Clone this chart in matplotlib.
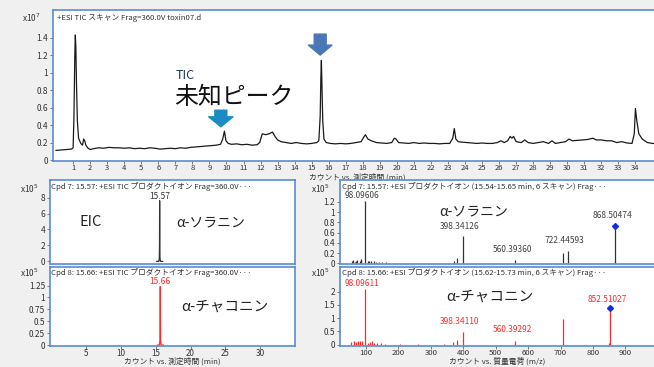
import matplotlib
matplotlib.use('Agg')
import matplotlib.pyplot as plt
from matplotlib.ticker import FormatStrFormatter

plt.rcParams['font.family'] = ['Noto Sans CJK JP', 'DejaVu Sans']

# TIC scan (x10^7) vs retention time (min)
tic_points = [
    (0.0, 0.11), (0.3, 0.115), (0.6, 0.12), (0.9, 0.125), (1.0, 0.14), (1.05, 0.5),
    (1.1, 1.2), (1.13, 1.43), (1.16, 1.3), (1.2, 0.85), (1.25, 0.45), (1.32, 0.25),
    (1.45, 0.19), (1.55, 0.17), (1.62, 0.24), (1.68, 0.22), (1.75, 0.17), (1.85, 0.14),
    (2.0, 0.12), (2.2, 0.13), (2.5, 0.14), (2.8, 0.135), (3.1, 0.145), (3.4, 0.14),
    (3.7, 0.14), (4.0, 0.135), (4.3, 0.14), (4.6, 0.13), (4.9, 0.135), (5.2, 0.13),
    (5.5, 0.14), (5.8, 0.135), (6.1, 0.125), (6.4, 0.13), (6.7, 0.135), (7.0, 0.13),
    (7.3, 0.14), (7.6, 0.135), (7.9, 0.145), (8.2, 0.15), (8.5, 0.155), (8.8, 0.16),
    (9.1, 0.165), (9.4, 0.17), (9.65, 0.18), (9.78, 0.24), (9.88, 0.33), (9.97, 0.22),
    (10.1, 0.19), (10.3, 0.18), (10.6, 0.185), (10.9, 0.175), (11.2, 0.18), (11.5, 0.17),
    (11.8, 0.175), (11.95, 0.2), (12.1, 0.3), (12.3, 0.29), (12.5, 0.3), (12.7, 0.32),
    (12.85, 0.27), (13.0, 0.23), (13.2, 0.21), (13.5, 0.2), (13.8, 0.19), (14.1, 0.2),
    (14.4, 0.19), (14.7, 0.185), (15.0, 0.19), (15.3, 0.2), (15.42, 0.22), (15.5, 0.5),
    (15.54, 0.95), (15.57, 1.14), (15.6, 0.9), (15.65, 0.45), (15.72, 0.24), (15.85, 0.2),
    (16.1, 0.19), (16.4, 0.185), (16.7, 0.19), (17.0, 0.185), (17.3, 0.19), (17.6, 0.2),
    (17.9, 0.21), (18.05, 0.26), (18.15, 0.29), (18.3, 0.24), (18.5, 0.22), (18.8, 0.2),
    (19.1, 0.195), (19.4, 0.19), (19.7, 0.2), (19.85, 0.25), (19.95, 0.24), (20.1, 0.2),
    (20.4, 0.195), (20.7, 0.19), (21.0, 0.2), (21.3, 0.19), (21.6, 0.195), (21.9, 0.19),
    (22.2, 0.19), (22.5, 0.185), (22.8, 0.19), (23.1, 0.19), (23.28, 0.25), (23.37, 0.36),
    (23.46, 0.24), (23.6, 0.21), (23.8, 0.205), (24.1, 0.2), (24.4, 0.195), (24.7, 0.19),
    (25.0, 0.195), (25.3, 0.19), (25.6, 0.19), (25.9, 0.2), (26.1, 0.22), (26.3, 0.2),
    (26.5, 0.22), (26.65, 0.27), (26.75, 0.25), (26.85, 0.27), (27.0, 0.21), (27.3, 0.2),
    (27.5, 0.23), (27.7, 0.2), (28.0, 0.19), (28.3, 0.2), (28.6, 0.21), (28.9, 0.19),
    (29.1, 0.22), (29.3, 0.19), (29.6, 0.2), (29.9, 0.21), (30.1, 0.24), (30.3, 0.22),
    (30.6, 0.225), (30.9, 0.23), (31.2, 0.235), (31.5, 0.25), (31.7, 0.23), (32.0, 0.23),
    (32.3, 0.22), (32.6, 0.22), (32.9, 0.2), (33.2, 0.21), (33.5, 0.195), (33.8, 0.19),
    (33.93, 0.3), (34.0, 0.59), (34.08, 0.45), (34.2, 0.3), (34.4, 0.24), (34.7, 0.2),
    (35.0, 0.19), (35.5, 0.185),
]
tic_time = [p[0] for p in tic_points]
tic_value = [p[1] for p in tic_points]

# EIC traces (x10^5)
eic1_time = [15.15, 15.45, 15.52, 15.55, 15.57, 15.59, 15.62, 15.69, 16.0]
eic1_value = [0.0, 0.0, 0.4, 2.2, 7.6, 2.1, 0.4, 0.0, 0.0]
eic2_time = [15.25, 15.55, 15.61, 15.64, 15.66, 15.68, 15.71, 15.78, 16.1]
eic2_value = [0.0, 0.0, 0.1, 0.85, 1.23, 0.8, 0.1, 0.0, 0.0]

# product ion spectra (x10^5)
ms1_mz = [58, 60, 66, 70, 72, 80, 84, 86, 98.09606, 105, 110, 116, 126, 132, 140, 150,
          162, 200, 250, 300, 340, 370, 380, 398.34126, 560.3936, 706.44, 722.44593,
          866.5, 868.50474]
ms1_int = [0.04, 0.06, 0.03, 0.05, 0.07, 0.05, 0.08, 0.06, 1.21, 0.04, 0.04, 0.05, 0.04,
           0.03, 0.03, 0.02, 0.02, 0.01, 0.01, 0.01, 0.01, 0.04, 0.1, 0.53, 0.06, 0.21,
           0.24, 0.02, 0.73]
ms1_labels = ['98.09606', '398.34126', '560.39360', '722.44593', '868.50474']
ms1_label_mz = [98.09606, 398.34126, 560.3936, 722.44593, 868.50474]
ms1_label_int = [1.21, 0.53, 0.06, 0.24, 0.73]

ms2_mz = [55, 62, 70, 75, 80, 88, 98.09611, 105, 112, 120, 126, 135, 146, 158, 206, 260,
          340, 368, 380, 398.3411, 560.39292, 706.45, 850.5, 852.51027]
ms2_int = [0.1, 0.12, 0.1, 0.12, 0.13, 0.14, 2.1, 0.05, 0.08, 0.15, 0.06, 0.05, 0.05,
           0.03, 0.03, 0.02, 0.02, 0.09, 0.18, 0.47, 0.14, 0.96, 0.05, 1.37]
ms2_labels = ['98.09611', '398.34110', '560.39292', '852.51027']
ms2_label_mz = [98.09611, 398.3411, 560.39292, 852.51027]
ms2_label_int = [2.1, 0.47, 0.14, 1.37]

W, H = 654, 367
BLUE = '#5b8bd4'
RED = '#ff2a2a'


def px(x, y):
    return x / W, 1 - y / H


def box(l, t, r, b):
    return [l / W, 1 - b / H, (r - l) / W, (b - t) / H]


def style(ax, title):
    for s in ax.spines.values():
        s.set_color(BLUE)
        s.set_linewidth(1.2)
    ax.spines['right'].set_visible(False)
    ax.tick_params(labelsize=6, length=2.5, width=0.6, color='#666666',
                   labelcolor='#333333', pad=1)
    ax.yaxis.set_major_formatter(FormatStrFormatter('%g'))
    ax.text(0.006, 0.975, title, transform=ax.transAxes, ha='left', va='top',
            fontsize=5.6, color='#333333')


fig = plt.figure(figsize=(6.54, 3.67), dpi=100)
fig.patch.set_facecolor('#f0f0f0')

# ---- TIC ----
ax = fig.add_axes(box(53, 10, 661, 161))
ax.plot(tic_time, tic_value, color='#1a1a1a', lw=0.9)
ax.set_xlim(-0.18, 35.5)
ax.set_ylim(-0.011, 1.716)
ax.set_xticks(range(1, 35))
ax.set_yticks([0, 0.2, 0.4, 0.6, 0.8, 1.0, 1.2, 1.4])
style(ax, '+ESI TIC スキャン Frag=360.0V toxin07.d')
ax.tick_params(axis='x', labelsize=5.5, length=1.8, pad=0.6)
ax.text(0.5, -0.108, 'カウント vs. 測定時間 (min)', transform=ax.transAxes,
        ha='center', va='center', fontsize=5.6, color='#333333')
ax.text(7.0, 0.97, 'TIC', fontsize=9, color='#1f3864', ha='left', va='center')
ax.text(6.95, 0.72, '未知ピーク', fontsize=17.2, color='#111111',
        ha='left', va='center')
ax.annotate('', xy=(9.67, 0.38), xytext=(9.67, 0.57),
            arrowprops=dict(arrowstyle='simple,head_length=0.72,head_width=1.75,tail_width=0.86',
                            color='#1b8bc4', shrinkA=0, shrinkB=0))
ax.annotate('', xy=(15.5, 1.2), xytext=(15.5, 1.44),
            arrowprops=dict(arrowstyle='simple,head_length=0.72,head_width=1.7,tail_width=0.86',
                            color='#4b77b8', shrinkA=0, shrinkB=0))
fig.text(*px(22, 18), 'x10$^{7}$', fontsize=6, color='#333333', va='center')

# ---- EIC ----
ax1 = fig.add_axes(box(50, 180, 295, 264))
ax1.plot(eic1_time, eic1_value, color='#333333', lw=0.9)
ax1.set_xlim(-0.17, 35.0)
ax1.set_ylim(-0.33, 10.2)
ax1.set_yticks([0, 2, 4, 6, 8])
ax1.set_xticks([])
style(ax1, 'Cpd 7: 15.57: +ESI TIC プロダクトイオン Frag=360.0V···')
ax1.spines['right'].set_visible(True)
ax1.annotate('15.57', xy=(15.57, 7.6), xytext=(0, 0), textcoords='offset points',
             ha='center', va='bottom', fontsize=6, color='#333333')
ax1.text(0.12, 0.5, 'EIC', transform=ax1.transAxes, fontsize=10.5, color='#222222',
         ha='left', va='center')
ax1.text(0.515, 0.5, 'α-ソラニン', transform=ax1.transAxes, fontsize=10,
         color='#222222', ha='left', va='center')
fig.text(*px(20, 189), 'x10$^{5}$', fontsize=6, color='#333333', va='center')

ax2 = fig.add_axes(box(50, 266.5, 295, 346))
ax2.plot(eic2_time, eic2_value, color=RED, lw=0.9)
ax2.set_xlim(-0.17, 35.0)
ax2.set_ylim(-0.02, 1.65)
ax2.set_yticks([0, 0.25, 0.5, 0.75, 1.0, 1.25])
ax2.set_xticks([5, 10, 15, 20, 25, 30])
style(ax2, 'Cpd 8: 15.66: +ESI TIC プロダクトイオン Frag=360.0V···')
ax2.spines['right'].set_visible(True)
ax2.tick_params(axis='x', labelsize=5.8, pad=0.5, length=2)
ax2.annotate('15.66', xy=(15.66, 1.23), xytext=(0, 0.5), textcoords='offset points',
             ha='center', va='bottom', fontsize=6, color=RED)
ax2.text(0.535, 0.5, 'α-チャコニン', transform=ax2.transAxes, fontsize=10.5,
         color='#222222', ha='left', va='center')
fig.text(172, 1.0, 'カウント vs. 測定時間 (min)', transform=None,
         ha='center', va='bottom', fontsize=5.6, color='#333333')
fig.text(*px(20, 273), 'x10$^{5}$', fontsize=6, color='#333333', va='center')

# ---- product ion spectra ----
ax3 = fig.add_axes(box(340, 180, 661, 264))
ax3.vlines(ms1_mz, 0, ms1_int, color='#333333', lw=0.9)
ax3.plot([ms1_label_mz[-1]], [ms1_label_int[-1]], 'D', color='#1030e0', ms=3)
for lab, mz, h, dy in zip(ms1_labels, ms1_label_mz, ms1_label_int, [6, 10, 11, 11, 10]):
    ax3.annotate(lab, xy=(mz, h), xytext=(-3, dy), textcoords='offset pixels',
                 ha='center', va='center', fontsize=6, color='#444444')
ax3.set_xlim(19.8, 1009.7)
ax3.set_ylim(-0.014, 1.63)
ax3.set_yticks([0, 0.2, 0.4, 0.6, 0.8, 1.0, 1.2])
ax3.set_xticks([])
style(ax3, 'Cpd 7: 15.57: +ESI プロダクトイオン (15.54-15.65 min, 6 スキャン) Frag···')
ax3.text(0.31, 0.62, 'α-ソラニン', transform=ax3.transAxes, fontsize=10,
         color='#222222', ha='left', va='center')
fig.text(*px(311, 189), 'x10$^{5}$', fontsize=6, color='#333333', va='center')

ax4 = fig.add_axes(box(340, 266.5, 661, 345.5))
ax4.vlines(ms2_mz, 0, ms2_int, color=RED, lw=0.9)
ax4.plot([ms2_label_mz[-1]], [ms2_label_int[-1]], 'D', color='#1030e0', ms=3)
for lab, mz, h, dy in zip(ms2_labels, ms2_label_mz, ms2_label_int, [6, 11, 11, 9]):
    ax4.annotate(lab, xy=(mz, h), xytext=(-3, dy), textcoords='offset pixels',
                 ha='center', va='center', fontsize=6, color=RED)
ax4.set_xlim(19.8, 1009.7)
ax4.set_ylim(-0.034, 2.95)
ax4.set_yticks([0, 0.5, 1.0, 1.5, 2.0])
ax4.set_xticks([100, 200, 300, 400, 500, 600, 700, 800, 900])
style(ax4, 'Cpd 8: 15.66: +ESI プロダクトイオン (15.62-15.73 min, 6 スキャン) Frag···')
ax4.tick_params(axis='x', labelsize=5.6, pad=0.3, length=2)
ax4.text(0.33, 0.62, 'α-チャコニン', transform=ax4.transAxes, fontsize=10.5,
         color='#222222', ha='left', va='center')
fig.text(497, 1.0, 'カウント vs. 質量電荷 (m/z)', transform=None,
         ha='center', va='bottom', fontsize=5.6, color='#333333')
fig.text(*px(311, 273), 'x10$^{5}$', fontsize=6, color='#333333', va='center')

fig.savefig('out.png', dpi=100, facecolor=fig.get_facecolor())
